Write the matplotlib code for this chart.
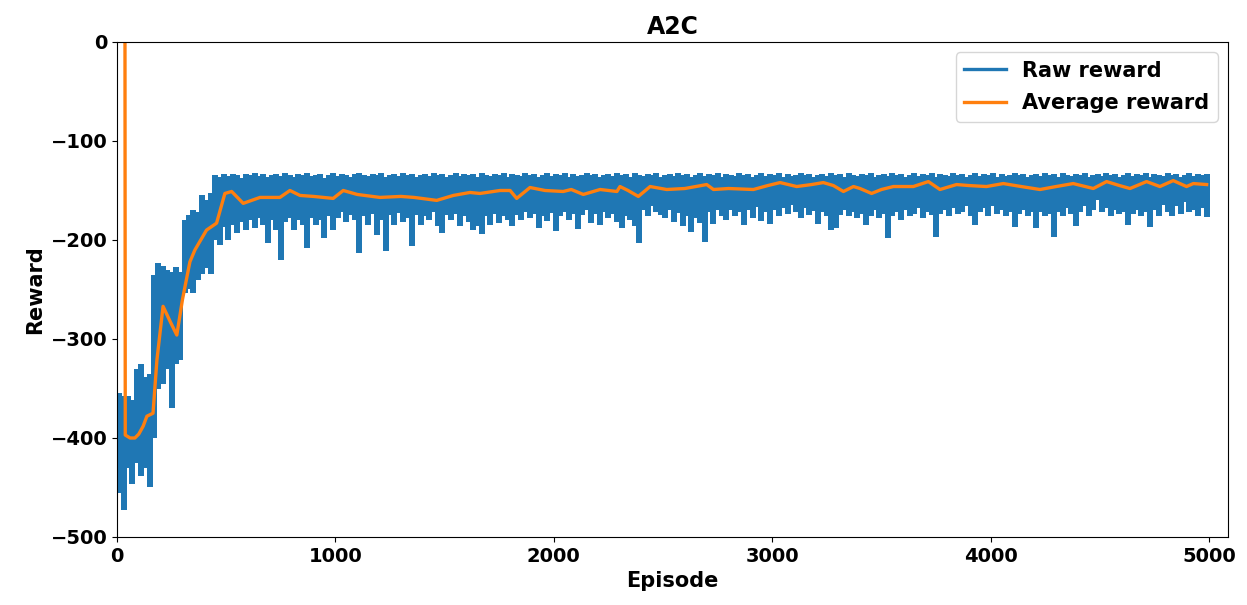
import numpy as np
import matplotlib
matplotlib.use("Agg")
import matplotlib.pyplot as plt

# ---- data ----
bin_width = 20  # episodes per bin; each bin holds the peak and trough of the raw reward

raw_hi = [
    -355, -358, -358, -362, -330, -325, -338, -335, -235, -223,
    -226, -230, -232, -227, -232, -180, -175, -170, -172, -155,
    -160, -153, -134, -136, -133, -135, -133, -134, -137, -133,
    -134, -132, -135, -133, -136, -134, -133, -135, -132, -134,
    -136, -133, -134, -132, -135, -134, -133, -137, -134, -132,
    -135, -133, -134, -136, -133, -132, -134, -135, -133, -134,
    -132, -136, -134, -133, -135, -132, -134, -133, -136, -134,
    -133, -135, -132, -134, -133, -136, -134, -132, -135, -133,
    -134, -133, -136, -132, -134, -135, -133, -134, -132, -136,
    -133, -134, -135, -132, -134, -133, -136, -134, -132, -135,
    -133, -134, -132, -136, -133, -135, -134, -132, -134, -133,
    -136, -134, -133, -135, -132, -134, -133, -136, -132, -134,
    -135, -133, -134, -132, -136, -134, -133, -135, -132, -134,
    -133, -136, -134, -132, -135, -133, -134, -132, -136, -133,
    -134, -135, -132, -134, -133, -136, -134, -132, -135, -133,
    -134, -132, -136, -133, -135, -134, -132, -134, -133, -136,
    -134, -133, -135, -132, -134, -133, -136, -132, -134, -135,
    -133, -134, -132, -136, -134, -133, -135, -132, -134, -133,
    -136, -134, -132, -135, -133, -134, -132, -136, -133, -134,
    -135, -132, -134, -133, -136, -134, -132, -135, -133, -134,
    -132, -136, -133, -135, -134, -132, -134, -133, -136, -134,
    -133, -135, -132, -134, -133, -136, -132, -134, -135, -133,
    -134, -132, -136, -134, -133, -135, -132, -134, -133, -136,
    -134, -132, -135, -133, -134, -132, -136, -133, -134, -135,
    -132, -134, -133, -136, -134, -132, -135, -133, -134, -133,
]

raw_lo = [
    -456, -473, -430, -446, -425, -438, -430, -449, -400, -351,
    -345, -330, -370, -325, -321, -254, -250, -254, -240, -234,
    -228, -234, -200, -205, -187, -200, -185, -193, -182, -190,
    -180, -188, -178, -185, -203, -180, -190, -220, -182, -178,
    -190, -180, -185, -208, -178, -185, -180, -198, -176, -190,
    -178, -172, -182, -175, -180, -213, -176, -185, -174, -195,
    -180, -211, -175, -185, -173, -182, -178, -206, -175, -185,
    -176, -180, -172, -186, -193, -175, -180, -174, -186, -176,
    -182, -190, -186, -194, -176, -185, -174, -183, -176, -180,
    -186, -175, -180, -172, -178, -174, -188, -176, -181, -173,
    -191, -176, -172, -180, -174, -189, -175, -170, -183, -174,
    -185, -172, -178, -174, -182, -188, -176, -180, -186, -203,
    -170, -176, -166, -172, -175, -178, -170, -182, -173, -186,
    -176, -192, -178, -183, -202, -172, -184, -170, -176, -180,
    -170, -176, -172, -185, -170, -178, -167, -181, -172, -184,
    -170, -176, -168, -174, -165, -172, -178, -168, -175, -171,
    -184, -172, -176, -190, -188, -175, -170, -176, -172, -178,
    -174, -185, -176, -170, -178, -174, -198, -176, -172, -180,
    -170, -176, -174, -168, -178, -172, -175, -197, -174, -170,
    -176, -168, -174, -172, -166, -176, -185, -172, -168, -176,
    -166, -174, -170, -176, -172, -187, -174, -170, -176, -172,
    -188, -172, -176, -174, -197, -172, -176, -168, -174, -186,
    -172, -166, -176, -170, -160, -172, -168, -176, -170, -174,
    -172, -185, -174, -170, -176, -172, -187, -170, -176, -165,
    -172, -176, -166, -174, -162, -172, -170, -176, -168, -177,
]

avg_episode = [
    36, 38, 60, 82, 100, 120, 137, 165, 183, 211, 245, 274, 300, 334, 357,
    410, 456, 494, 525, 578, 655, 746, 792, 838, 900, 990, 1036, 1100, 1204,
    1300, 1360, 1464, 1540, 1616, 1662, 1754, 1800, 1830, 1891, 1960, 2043,
    2080, 2135, 2212, 2289, 2303, 2340, 2387, 2441, 2517, 2600, 2700, 2731,
    2800, 2914, 2980, 3036, 3112, 3180, 3234, 3280, 3326, 3372, 3402, 3455,
    3500, 3555, 3646, 3715, 3768, 3844, 3900, 3981, 4058, 4140, 4226, 4300,
    4378, 4470, 4531, 4590, 4638, 4714, 4775, 4836, 4897, 4928, 4989,
]
avg_reward = [
    200, -397, -400, -400, -396, -388, -378, -375, -321, -267, -283, -296,
    -260, -222, -210, -190, -183, -153, -151, -163, -157, -157, -150, -155,
    -156, -158, -150, -154, -157, -156, -157, -160, -155, -152, -153, -150,
    -150, -158, -147, -150, -151, -149, -154, -149, -151, -146, -150, -156,
    -146, -149, -148, -144, -149, -148, -149, -145, -142, -146, -144, -142,
    -145, -151, -146, -148, -153, -149, -146, -146, -141, -149, -144, -145,
    -146, -143, -146, -149, -146, -143, -148, -141, -145, -148, -141, -146,
    -140, -146, -143, -144,
]

x_ticks = [0, 1000, 2000, 3000, 4000, 5000]
y_ticks = [-500, -400, -300, -200, -100, 0]

bin_center = [i * bin_width + bin_width / 2 for i in range(len(raw_hi))]

plt.rcParams['font.family'] = ['DejaVu Sans']
plt.rcParams['font.weight'] = 'bold'

fig = plt.figure(figsize=(12.47, 6.05), dpi=100)
ax = fig.add_axes([0.0938, 0.1124, 0.891, 0.8182])

ax.set_xlim(0, 5087)
ax.set_ylim(-500, 0)

# each bin's span between its trough and peak; columns overlap slightly so the band is solid
ax.vlines(bin_center, raw_lo, raw_hi, color='#1f77b4', lw=4.2,
          capstyle='butt', antialiased=False)
ax.plot([], [], color='#1f77b4', lw=2.4, label='Raw reward')
ax.plot(avg_episode, avg_reward, color='#ff7f0e', lw=2.4, label='Average reward')

ax.set_xticks(x_ticks)
ax.set_yticks(y_ticks)
ax.tick_params(labelsize=14)
for lab in ax.get_xticklabels() + ax.get_yticklabels():
    lab.set_fontweight('bold')
ax.set_xlabel('Episode', fontsize=15, fontweight='bold')
ax.set_ylabel('Reward', fontsize=15, fontweight='bold')
ax.set_title('A2C', fontsize=17, fontweight='bold')
ax.legend(loc='upper right', prop={'size': 15, 'weight': 'bold'},
          labelspacing=0.6)

fig.savefig('out.png', dpi=100)
